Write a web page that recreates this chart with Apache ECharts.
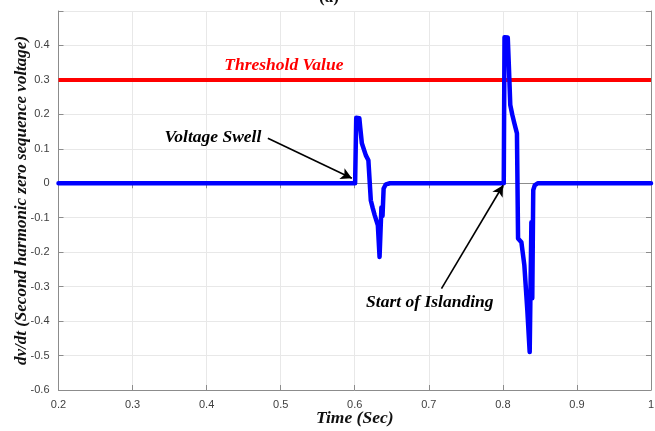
<!DOCTYPE html>
<html>
<head>
<meta charset="utf-8">
<title>dv/dt of second harmonic zero sequence voltage</title>
<script src="https://cdn.jsdelivr.net/npm/echarts@6/dist/echarts.min.js"></script>
<style>
  html, body { margin: 0; padding: 0; background: #ffffff; }
  #chart { width: 655px; height: 431px; }
</style>
</head>
<body>
<div id="chart"></div>
<script>
// Time samples (s) and dv/dt of the second harmonic zero sequence voltage
const timeSec = [
  0.2, 0.6005,
  0.6020, 0.6038, 0.6062, 0.6075, 0.6096, 0.6150, 0.6184,
  0.6217, 0.6244, 0.6270, 0.6312, 0.6335, 0.6348, 0.6360, 0.6375, 0.6390, 0.6420, 0.6475,
  0.8012,
  0.8022, 0.8040, 0.8066, 0.8082, 0.8100, 0.8128, 0.8155, 0.8190, 0.8205,
  0.8250, 0.8290, 0.8330, 0.8362, 0.8376, 0.8385, 0.8397, 0.8410, 0.8430, 0.8470,
  1.0
];
const dvdt = [
  0, 0,
  0.190, 0.192, 0.189, 0.160, 0.116, 0.081, 0.067,
  -0.050, -0.073, -0.093, -0.122, -0.214, -0.212, -0.070, -0.095, -0.015, -0.003, 0,
  0,
  0.424, 0.426, 0.423, 0.334, 0.227, 0.198, 0.174, 0.145, -0.160,
  -0.171, -0.238, -0.368, -0.490, -0.493, -0.113, -0.334, -0.020, -0.006, 0,
  0
];

// Detection threshold
const thresholdValue = 0.3;

// Axis ranges and ticks
const xTicks = { min: 0.2, max: 1, step: 0.1 };
const yTicks = { min: -0.6, max: 0.5, step: 0.1 };

// Annotation texts and arrow endpoints in data units [time, value]
const notes = [
  { text: 'Threshold Value', at: [0.5043, 0.3425], color: '#ff0000' },
  { text: 'Voltage Swell', at: [0.4085, 0.1335], color: '#000000' },
  { text: 'Start of Islanding', at: [0.7013, -0.3446], color: '#000000' }
];
const arrows = [
  [[0.4827, 0.1306], [0.5961, 0.0145]],
  [[0.7171, -0.3057], [0.8003, -0.0058]]
];

const serifBold = { fontFamily: 'Liberation Serif', fontWeight: 'bold', fontStyle: 'italic' };
const axisGray = '#8c8c8c';

const chart = echarts.init(document.getElementById('chart'), null, { renderer: 'canvas' });

const boxAxis = (pos) => ({
  type: 'value',
  position: pos,
  axisLine: { show: true, lineStyle: { color: axisGray, width: 1 } },
  axisTick: { show: true, inside: true, length: 5, lineStyle: { color: axisGray } },
  axisLabel: { show: false },
  splitLine: { show: false }
});

chart.setOption({
  animation: false,
  backgroundColor: '#ffffff',
  title: {
    text: '(a)',
    left: 314,
    top: -16,
    textStyle: { fontFamily: 'Liberation Serif', fontWeight: 'bold', fontSize: 17, color: '#111' }
  },
  grid: { left: 58.5, right: 4, top: 11, bottom: 41, outerBoundsMode: 'none', containLabel: false },
  xAxis: [
    {
      type: 'value',
      min: xTicks.min, max: xTicks.max, interval: xTicks.step,
      position: 'bottom',
      name: 'Time (Sec)',
      nameLocation: 'middle',
      nameGap: 19,
      nameMoveOverlap: false,
      nameTextStyle: Object.assign({ fontSize: 17.5, color: '#111' }, serifBold),
      axisLine: { show: true, onZero: false, lineStyle: { color: axisGray, width: 1 } },
      axisTick: { show: true, inside: true, length: 5, lineStyle: { color: axisGray } },
      axisLabel: { color: '#404040', fontSize: 11, fontFamily: 'Liberation Sans', margin: 9 },
      splitLine: { show: true, lineStyle: { color: '#e8e8e8', width: 1 } }
    },
    Object.assign(boxAxis('top'), { min: xTicks.min, max: xTicks.max, interval: xTicks.step })
  ],
  yAxis: [
    {
      type: 'value',
      min: yTicks.min, max: yTicks.max, interval: yTicks.step,
      position: 'left',
      name: 'dv/dt (Second harmonic zero sequence voltage)',
      nameLocation: 'middle',
      nameGap: 28,
      nameMoveOverlap: false,
      nameTextStyle: Object.assign({ fontSize: 17, color: '#111' }, serifBold),
      axisLine: { show: true, onZero: false, lineStyle: { color: axisGray, width: 1 } },
      axisTick: { show: true, inside: true, length: 5, lineStyle: { color: axisGray } },
      axisLabel: {
        color: '#404040', fontSize: 11, fontFamily: 'Liberation Sans', margin: 9,
        formatter: (v) => (Math.abs(v - yTicks.max) < 1e-9 ? '' : String(Math.round(v * 10) / 10))
      },
      splitLine: { show: true, lineStyle: { color: '#e8e8e8', width: 1 } }
    },
    Object.assign(boxAxis('right'), { min: yTicks.min, max: yTicks.max, interval: yTicks.step })
  ],
  series: [
    {
      name: 'Threshold',
      type: 'line',
      data: [[xTicks.min, thresholdValue], [xTicks.max, thresholdValue]],
      showSymbol: false,
      lineStyle: { color: '#ff0000', width: 4 },
      z: 3
    },
    {
      name: 'dv/dt',
      type: 'line',
      data: timeSec.map((t, i) => [t, dvdt[i]]),
      showSymbol: false,
      lineStyle: { color: '#0000ff', width: 4.5, join: 'round', cap: 'round' },
      z: 4
    },
    {
      name: 'Notes',
      type: 'scatter',
      symbolSize: 0,
      itemStyle: { opacity: 1 },
      data: notes.map((n) => ({
        value: n.at,
        label: {
          show: true, position: 'inside', formatter: n.text,
          color: n.color, fontSize: 17.5, opacity: 1,
          fontFamily: 'Liberation Serif', fontWeight: 'bold', fontStyle: 'italic'
        }
      })),
      markLine: {
        silent: true,
        symbol: ['none', 'arrow'],
        symbolSize: [9, 11],
        label: { show: false },
        lineStyle: { color: '#000000', width: 1.6, type: 'solid', opacity: 1 },
        data: arrows.map((a) => [{ coord: a[0] }, { coord: a[1] }])
      },
      z: 5
    }
  ]
});
</script>
</body>
</html>
